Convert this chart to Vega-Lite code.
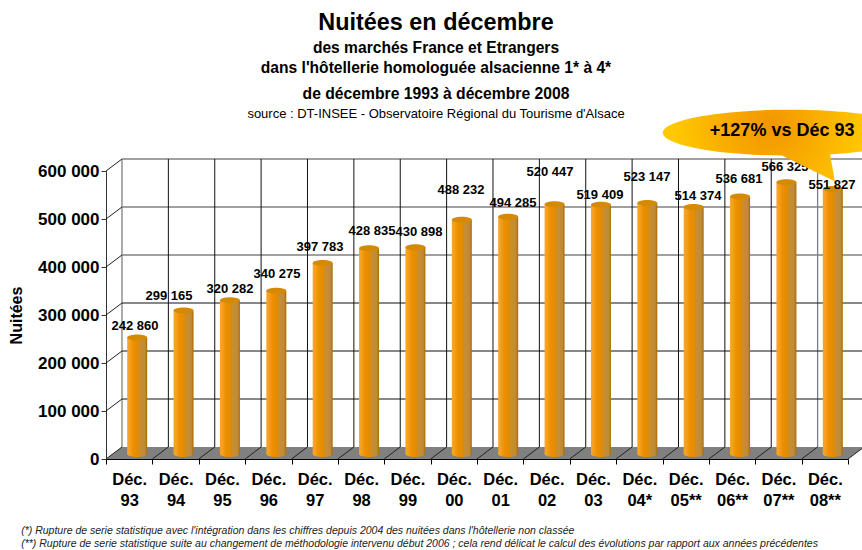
{"$schema":"https://vega.github.io/schema/vega-lite/v6.json","width":742,"height":288,"autosize":"none","padding":{"left":106,"top":171,"right":14,"bottom":91},"background":"white","config":{"view":{"stroke":null},"font":"Liberation Sans","locale":{"number":{"decimal":",","thousands":" ","grouping":[3],"currency":["","€"]}}},"title":{"text":"Nuitées en décembre","subtitle":["des marchés France et Etrangers","dans l'hôtellerie homologuée alsacienne 1* à 4*"],"anchor":"middle","frame":"group","dx":-41,"offset":8,"font":"Liberation Sans","fontSize":23.4,"fontWeight":"bold","color":"#000","subtitleFont":"Liberation Sans","subtitleFontSize":15.6,"subtitleFontWeight":"bold","subtitleColor":"#000","subtitleLineHeight":20,"subtitlePadding":6},"datasets":{"bars":[{"cat":"Déc. 93","value":242860,"label_x":0.625,"label_y":277083},{"cat":"Déc. 94","value":299165,"label_x":1.358,"label_y":340000},{"cat":"Déc. 95","value":320282,"label_x":2.674,"label_y":354167},{"cat":"Déc. 96","value":340275,"label_x":3.687,"label_y":386000},{"cat":"Déc. 97","value":397783,"label_x":4.615,"label_y":441667},{"cat":"Déc. 98","value":428835,"label_x":5.736,"label_y":475000},{"cat":"Déc. 99","value":430898,"label_x":6.749,"label_y":472900},{"cat":"Déc. 00","value":488232,"label_x":7.655,"label_y":560417},{"cat":"Déc. 01","value":494285,"label_x":8.776,"label_y":533333},{"cat":"Déc. 02","value":520447,"label_x":9.574,"label_y":597917},{"cat":"Déc. 03","value":519409,"label_x":10.65,"label_y":550000},{"cat":"Déc. 04*","value":523147,"label_x":11.666,"label_y":588000},{"cat":"Déc. 05**","value":514374,"label_x":12.766,"label_y":548600},{"cat":"Déc. 06**","value":536681,"label_x":13.65,"label_y":583000},{"cat":"Déc. 07**","value":566325,"label_x":14.64,"label_y":609000},{"cat":"Déc. 08**","value":551827,"label_x":15.655,"label_y":570800}]},"layer":[{"data":{"values":[{"x":0,"low":0,"high":0},{"x":0.345,"low":0,"high":25000},{"x":16,"low":0,"high":25000},{"x":16.345,"low":25000,"high":25000}]},"mark":{"type":"area","color":"#808080","opacity":1,"clip":false},"encoding":{"x":{"field":"x","type":"quantitative","scale":{"domain":[0,16]},"axis":null},"y":{"field":"low","type":"quantitative","scale":{"domain":[0,600000],"nice":false},"axis":{"values":[0,100000,200000,300000,400000,500000,600000],"grid":false,"title":"Nuitées","titleFontSize":16,"titleFontWeight":"bold","titleColor":"#000","titlePadding":13,"labelFontSize":17,"labelFontWeight":"bold","labelColor":"#000","labelPadding":2,"tickSize":5,"tickColor":"#333","domainColor":"#333","format":",d"}},"y2":{"field":"high"}}},{"data":{"values":[{"x":0.345,"x2":16.345,"v":425000},{"x":0.345,"x2":16.345,"v":525000},{"x":0.345,"x2":16.345,"v":625000},{"x":0.345,"x2":0.345,"v":25000,"v2":625000},{"x":15.345,"x2":15.345,"v":25000,"v2":625000}]},"mark":{"type":"rule","color":"#808080","strokeWidth":1.3},"encoding":{"x":{"field":"x","type":"quantitative","scale":{"domain":[0,16]},"axis":null},"x2":{"field":"x2"},"y":{"field":"v","type":"quantitative"},"y2":{"field":"v2"}}},{"data":{"values":[{"x":0.345,"x2":16.345,"v":125000},{"x":0.345,"x2":16.345,"v":225000},{"x":0.345,"x2":16.345,"v":325000},{"x":1.345,"v":25000,"v2":625000},{"x":2.345,"v":25000,"v2":625000},{"x":3.345,"v":25000,"v2":625000},{"x":4.345,"v":25000,"v2":625000},{"x":5.345,"v":25000,"v2":625000},{"x":6.345,"v":25000,"v2":625000},{"x":7.345,"v":25000,"v2":625000},{"x":8.345,"v":25000,"v2":625000},{"x":9.345,"v":25000,"v2":625000},{"x":10.345,"v":25000,"v2":625000},{"x":11.345,"v":25000,"v2":625000},{"x":12.345,"v":25000,"v2":625000},{"x":13.345,"v":25000,"v2":625000},{"x":14.345,"v":25000,"v2":625000}]},"mark":{"type":"rule","color":"#111","strokeWidth":1},"encoding":{"x":{"field":"x","type":"quantitative","scale":{"domain":[0,16]},"axis":null},"x2":{"field":"x2"},"y":{"field":"v","type":"quantitative"},"y2":{"field":"v2"}}},{"data":{"values":[{"x":0,"x2":0.345,"v":0,"v2":25000},{"x":0,"x2":0.345,"v":100000,"v2":125000},{"x":0,"x2":0.345,"v":200000,"v2":225000},{"x":0,"x2":0.345,"v":300000,"v2":325000},{"x":0,"x2":0.345,"v":400000,"v2":425000},{"x":0,"x2":0.345,"v":500000,"v2":525000},{"x":0,"x2":0.345,"v":600000,"v2":625000},{"x":1,"x2":1.345,"v":0,"v2":25000},{"x":2,"x2":2.345,"v":0,"v2":25000},{"x":3,"x2":3.345,"v":0,"v2":25000},{"x":4,"x2":4.345,"v":0,"v2":25000},{"x":5,"x2":5.345,"v":0,"v2":25000},{"x":6,"x2":6.345,"v":0,"v2":25000},{"x":7,"x2":7.345,"v":0,"v2":25000},{"x":8,"x2":8.345,"v":0,"v2":25000},{"x":9,"x2":9.345,"v":0,"v2":25000},{"x":10,"x2":10.345,"v":0,"v2":25000},{"x":11,"x2":11.345,"v":0,"v2":25000},{"x":12,"x2":12.345,"v":0,"v2":25000},{"x":13,"x2":13.345,"v":0,"v2":25000},{"x":14,"x2":14.345,"v":0,"v2":25000},{"x":15,"x2":15.345,"v":0,"v2":25000},{"x":16,"x2":16.345,"v":0,"v2":25000}]},"mark":{"type":"rule","color":"#222","strokeWidth":1},"encoding":{"x":{"field":"x","type":"quantitative","scale":{"domain":[0,16]},"axis":null},"x2":{"field":"x2"},"y":{"field":"v","type":"quantitative"},"y2":{"field":"v2"}}},{"data":{"name":"bars"},"mark":{"type":"point","filled":true,"opacity":1,"shape":"M-1,0 A1,.3 0 0 0 1,0 A1,.3 0 0 0 -1,0 Z","size":400,"xOffset":8,"yOffset":-5,"fill":{"gradient":"linear","x1":0,"x2":1,"y1":0,"y2":0,"stops":[{"offset":0,"color":"#f7a52a"},{"offset":0.12,"color":"#f6a020"},{"offset":0.3,"color":"#ee8f00"},{"offset":0.55,"color":"#e08c00"},{"offset":0.62,"color":"#c98e30"},{"offset":0.88,"color":"#c08a3a"},{"offset":1,"color":"#a96c00"}]}},"encoding":{"x":{"field":"cat","type":"nominal","sort":null,"scale":{"paddingInner":0,"paddingOuter":0},"axis":{"title":null,"zindex":1,"labelAngle":0,"labelExpr":"split(datum.label,' ')","labelFontSize":16.5,"labelFontWeight":"bold","labelColor":"#000","labelLineHeight":21,"labelPadding":7,"tickBand":"extent","tickSize":5,"tickColor":"#000","domainColor":"#000"}},"y":{"datum":0,"type":"quantitative"}}},{"data":{"name":"bars"},"mark":{"type":"bar","size":20,"xOffset":8,"yOffset":-5,"fill":{"gradient":"linear","x1":0,"x2":1,"y1":0,"y2":0,"stops":[{"offset":0,"color":"#f7a52a"},{"offset":0.12,"color":"#f6a020"},{"offset":0.3,"color":"#ee8f00"},{"offset":0.55,"color":"#e08c00"},{"offset":0.62,"color":"#c98e30"},{"offset":0.88,"color":"#c08a3a"},{"offset":1,"color":"#a96c00"}]}},"encoding":{"x":{"field":"cat","type":"nominal","sort":null,"scale":{"paddingInner":0,"paddingOuter":0},"axis":null},"y":{"field":"value","type":"quantitative"}}},{"data":{"name":"bars"},"mark":{"type":"point","filled":true,"opacity":1,"shape":"M-1,0 A1,.3 0 0 0 1,0 A1,.3 0 0 0 -1,0 Z","size":400,"xOffset":8,"yOffset":-5,"fill":"#d58a06"},"encoding":{"x":{"field":"cat","type":"nominal","sort":null,"scale":{"paddingInner":0,"paddingOuter":0},"axis":null},"y":{"field":"value","type":"quantitative"}}},{"data":{"name":"bars"},"mark":{"type":"text","fontSize":13,"fontWeight":"bold","color":"#000","align":"center","baseline":"middle"},"encoding":{"x":{"field":"label_x","type":"quantitative","scale":{"domain":[0,16]},"axis":null},"y":{"field":"label_y","type":"quantitative"},"text":{"field":"value","type":"quantitative","format":",d"}}},{"data":{"values":[{"x":14.75,"y":680000}]},"mark":{"type":"point","filled":true,"opacity":1,"clip":false,"shape":"M.315,.172 L.354,.386 L-.063,.181 A1,.181 0 1 1 .315,.172 Z","size":64516,"fill":{"gradient":"radial","x1":0.42,"y1":0.42,"r1":0,"x2":0.42,"y2":0.42,"r2":0.5,"stops":[{"offset":0,"color":"#f29600"},{"offset":0.3,"color":"#f8a800"},{"offset":0.75,"color":"#ffc800"},{"offset":1,"color":"#ffcc00"}]}},"encoding":{"x":{"field":"x","type":"quantitative","scale":{"domain":[0,16]},"axis":null},"y":{"field":"y","type":"quantitative"}}},{"data":{"values":[{"x":14.58,"y":683000,"t":"+127% vs Déc 93"}]},"mark":{"type":"text","fontSize":18,"fontWeight":"bold","color":"#000"},"encoding":{"x":{"field":"x","type":"quantitative","scale":{"domain":[0,16]},"axis":null},"y":{"field":"y","type":"quantitative"},"text":{"field":"t"}}},{"data":{"values":[{"x":7.116,"y":760417,"t":"de décembre 1993 à décembre 2008"}]},"mark":{"type":"text","fontSize":15.7,"fontWeight":"bold","color":"#000"},"encoding":{"x":{"field":"x","type":"quantitative","scale":{"domain":[0,16]},"axis":null},"y":{"field":"y","type":"quantitative"},"text":{"field":"t"}}},{"data":{"values":[{"x":7.116,"y":718750,"t":"source : DT-INSEE - Observatoire Régional du Tourisme d'Alsace"}]},"mark":{"type":"text","fontSize":13,"color":"#000"},"encoding":{"x":{"field":"x","type":"quantitative","scale":{"domain":[0,16]},"axis":null},"y":{"field":"y","type":"quantitative"},"text":{"field":"t"}}},{"data":{"values":[{"x":-1.83,"y":-150000,"t":"(*) Rupture de serie statistique  avec l'intégration dans les chiffres depuis 2004 des nuitées dans l'hôtellerie non classée"},{"x":-1.83,"y":-177000,"t":"(**) Rupture de serie statistique suite au changement de méthodologie intervenu début 2006 ; cela rend délicat le calcul des évolutions par rapport aux années précédentes"}]},"mark":{"type":"text","fontSize":10.5,"fontStyle":"italic","align":"left","color":"#222"},"encoding":{"x":{"field":"x","type":"quantitative","scale":{"domain":[0,16]},"axis":null},"y":{"field":"y","type":"quantitative"},"text":{"field":"t"}}}],"resolve":{"scale":{"x":"independent"}}}
